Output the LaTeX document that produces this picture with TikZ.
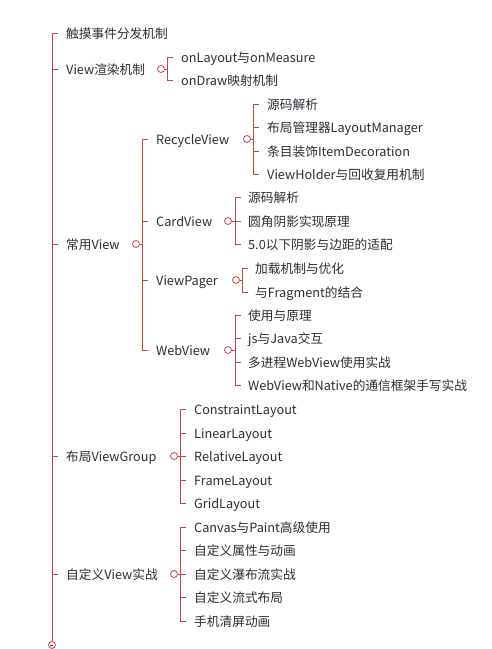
\documentclass[tikz,border=0pt]{standalone}
\usepackage{fontspec}
\setmainfont{Noto Sans CJK SC}
\definecolor{linec}{RGB}{196,70,70}
\definecolor{txtc}{RGB}{45,45,55}
\begin{document}
\begin{tikzpicture}[x=1pt,y=-1pt,
  lbl/.style={anchor=west,inner sep=0pt,text height=11pt,text depth=0.5pt,font=\fontsize{12.7}{14}\selectfont,text=txtc},
  circ/.style={circle,draw=linec,line width=0.8pt,minimum size=7pt,inner sep=0pt},
  br/.style={draw=linec,line width=0.9pt}]
\useasboundingbox[fill=white] (0,0) rectangle (492,649);
% root
\coordinate (r0) at (52,33);
\coordinate (r1) at (52,641);
\node[circ] (rc) at (52,645) {};
\draw[br] (rc.west) ++(2,0) -- ++(3,0);
\draw[br] (r0) -- (r1);
\node[lbl] (a1) at (66,33) {触摸事件分发机制};
\node[lbl] (a2) at (66,69) {View渲染机制};
\node[lbl] (a3) at (66,244) {常用View};
\node[lbl] (a4) at (66,456) {布局ViewGroup};
\node[lbl] (a5) at (66,574) {自定义View实战};
\foreach \n in {a1,a2,a3,a4,a5}{
  \draw[br] (r0 |- \n.west) -- ++(6,0);
}
% View渲染机制
\node[circ] (c2) at (161,69) {};
\node[lbl] (b1) at (181,57) {onLayout与onMeasure};
\node[lbl] (b2) at (181,80) {onDraw映射机制};
\coordinate (k2) at (167,69);
\draw[br] (c2.east) -- (k2);
\draw[br] (k2 |- b1.west) -- (k2 |- b2.west);
\foreach \n in {b1,b2}{\draw[br] (k2 |- \n.west) -- ++(6,0);}
% 常用View
\node[circ] (c3) at (136,244) {};
\coordinate (k3) at (142,244);
\node[lbl] (d1) at (156,139) {RecycleView};
\node[lbl] (d2) at (156,221) {CardView};
\node[lbl] (d3) at (156,280) {ViewPager};
\node[lbl] (d4) at (156,350) {WebView};
\draw[br] (c3.east) -- (k3);
\draw[br] (k3 |- d1.west) -- (k3 |- d4.west);
\foreach \n in {d1,d2,d3,d4}{\draw[br] (k3 |- \n.west) -- ++(6,0);}
% RecycleView
\node[circ] (cd1) at (247,139) {};
\coordinate (kd1) at (253,139);
\node[lbl] (e1) at (267,104) {源码解析};
\node[lbl] (e2) at (267,127) {布局管理器LayoutManager};
\node[lbl] (e3) at (267,151) {条目装饰ItemDecoration};
\node[lbl] (e4) at (267,174) {ViewHolder与回收复用机制};
\draw[br] (cd1.east) -- (kd1);
\draw[br] (kd1 |- e1.west) -- (kd1 |- e4.west);
\foreach \n in {e1,e2,e3,e4}{\draw[br] (kd1 |- \n.west) -- ++(6,0);}
% CardView
\node[circ] (cd2) at (228,221) {};
\coordinate (kd2) at (235,221);
\node[lbl] (f1) at (248,197) {源码解析};
\node[lbl] (f2) at (248,221) {圆角阴影实现原理};
\node[lbl] (f3) at (248,244) {5.0以下阴影与边距的适配};
\draw[br] (cd2.east) -- (kd2);
\draw[br] (kd2 |- f1.west) -- (kd2 |- f3.west);
\foreach \n in {f1,f2,f3}{\draw[br] (kd2 |- \n.west) -- ++(6,0);}
% ViewPager
\node[circ] (cd3) at (236,280) {};
\coordinate (kd3) at (242,280);
\node[lbl] (g1) at (255,268) {加载机制与优化};
\node[lbl] (g2) at (255,292) {与Fragment的结合};
\draw[br] (cd3.east) -- (kd3);
\draw[br] (kd3 |- g1.west) -- (kd3 |- g2.west);
\foreach \n in {g1,g2}{\draw[br] (kd3 |- \n.west) -- ++(6,0);}
% WebView
\node[circ] (cd4) at (228,350) {};
\coordinate (kd4) at (235,350);
\node[lbl] (h1) at (248,315) {使用与原理};
\node[lbl] (h2) at (248,338) {js与Java交互};
\node[lbl] (h3) at (248,362) {多进程WebView使用实战};
\node[lbl] (h4) at (248,385) {WebView和Native的通信框架手写实战};
\draw[br] (cd4.east) -- (kd4);
\draw[br] (kd4 |- h1.west) -- (kd4 |- h4.west);
\foreach \n in {h1,h2,h3,h4}{\draw[br] (kd4 |- \n.west) -- ++(6,0);}
% 布局ViewGroup
\node[circ] (c4) at (174,456) {};
\coordinate (k4) at (180,456);
\node[lbl] (i1) at (194,409) {ConstraintLayout};
\node[lbl] (i2) at (194,433) {LinearLayout};
\node[lbl] (i3) at (194,456) {RelativeLayout};
\node[lbl] (i4) at (194,480) {FrameLayout};
\node[lbl] (i5) at (194,503) {GridLayout};
\draw[br] (c4.east) -- (k4);
\draw[br] (k4 |- i1.west) -- (k4 |- i5.west);
\foreach \n in {i1,i2,i3,i4,i5}{\draw[br] (k4 |- \n.west) -- ++(6,0);}
% 自定义View实战
\node[circ] (c5) at (174,574) {};
\coordinate (k5) at (180,574);
\node[lbl] (j1) at (194,527) {Canvas与Paint高级使用};
\node[lbl] (j2) at (194,550) {自定义属性与动画};
\node[lbl] (j3) at (194,574) {自定义瀑布流实战};
\node[lbl] (j4) at (194,597) {自定义流式布局};
\node[lbl] (j5) at (194,621) {手机清屏动画};
\draw[br] (c5.east) -- (k5);
\draw[br] (k5 |- j1.west) -- (k5 |- j5.west);
\foreach \n in {j1,j2,j3,j4,j5}{\draw[br] (k5 |- \n.west) -- ++(6,0);}
\end{tikzpicture}
\end{document}
